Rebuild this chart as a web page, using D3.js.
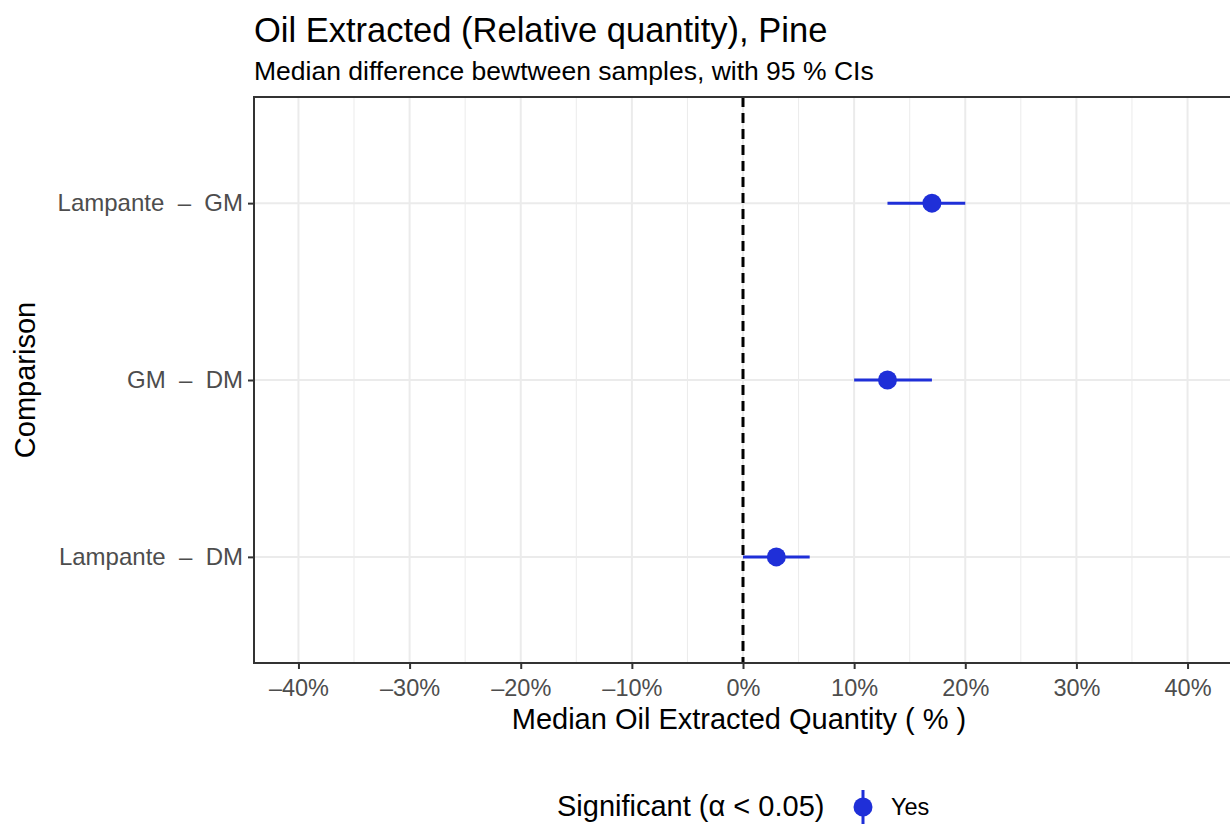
<!DOCTYPE html>
<html>
<head>
<meta charset="utf-8">
<script src="https://cdn.jsdelivr.net/npm/d3@7"></script>
<style>
  body { margin: 0; background: #fff; }
  text { font-family: "Liberation Sans", Arial, sans-serif; }
</style>
</head>
<body>
<div id="viz-container"></div>
<script>
// data
let comparisons = ['Lampante  \u2013  GM', 'GM  \u2013  DM', 'Lampante  \u2013  DM'];
let medians = [17, 13, 3];
let lowerCI = [13, 10, 0];
let upperCI = [20, 17, 6];
let xTicks = [-40, -30, -20, -10, 0, 10, 20, 30, 40];
let xMinor = [-35, -25, -15, -5, 5, 15, 25, 35];

let rows = comparisons.map((c, i) => ({name: c, mid: medians[i], lo: lowerCI[i], hi: upperCI[i]}));

let W = 1230, H = 824;
let pLeft = 254, pRight = 1232, pTop = 97, pBottom = 663;
let ptColor = '#1f2fd8';
let fontFam = '"Liberation Sans", Arial, sans-serif';

let viz = d3.select('#viz-container')
  .append('svg')
    .attr('width', W)
    .attr('height', H);

let x = d3.scaleLinear().domain([-44, 44]).range([pLeft, pRight]);
let y = d3.scalePoint().domain(comparisons).range([pTop, pBottom]).padding(0.6);

// grid
viz.selectAll('.minor').data(xMinor).enter()
  .append('line')
    .attr('x1', d => x(d)).attr('x2', d => x(d))
    .attr('y1', pTop).attr('y2', pBottom)
    .attr('stroke', '#ebebeb').attr('stroke-width', 1);

viz.selectAll('.major').data(xTicks).enter()
  .append('line')
    .attr('x1', d => x(d)).attr('x2', d => x(d))
    .attr('y1', pTop).attr('y2', pBottom)
    .attr('stroke', '#ebebeb').attr('stroke-width', 2);

viz.selectAll('.hgrid').data(comparisons).enter()
  .append('line')
    .attr('x1', pLeft).attr('x2', pRight)
    .attr('y1', d => y(d)).attr('y2', d => y(d))
    .attr('stroke', '#ebebeb').attr('stroke-width', 2);

// zero line
viz.append('line')
  .attr('x1', x(0)).attr('x2', x(0))
  .attr('y1', pTop).attr('y2', pBottom)
  .attr('stroke', '#000').attr('stroke-width', 3)
  .attr('stroke-dasharray', '10,6');

// CIs and points
viz.selectAll('.ci').data(rows).enter()
  .append('line')
    .attr('x1', d => x(d.lo)).attr('x2', d => x(d.hi))
    .attr('y1', d => y(d.name)).attr('y2', d => y(d.name))
    .attr('stroke', ptColor).attr('stroke-width', 3);

viz.selectAll('.pt').data(rows).enter()
  .append('circle')
    .attr('cx', d => x(d.mid)).attr('cy', d => y(d.name))
    .attr('r', 9.5)
    .attr('fill', ptColor);

// panel border
viz.append('rect')
  .attr('x', pLeft).attr('y', pTop)
  .attr('width', pRight - pLeft).attr('height', pBottom - pTop)
  .attr('fill', 'none').attr('stroke', '#333').attr('stroke-width', 2);

// axes
let xAxis = viz.append('g')
  .attr('transform', 'translate(0,' + pBottom + ')')
  .call(d3.axisBottom(x).tickValues(xTicks).tickSize(6).tickPadding(10)
    .tickFormat(d => (d < 0 ? '\u2013' + Math.abs(d) : d) + '%'));
xAxis.select('.domain').remove();
xAxis.selectAll('line').attr('stroke', '#333').attr('stroke-width', 2);
xAxis.selectAll('text').attr('fill', '#4d4d4d').style('font-size', '23.5px')
  .style('font-family', fontFam);

let yAxis = viz.append('g')
  .attr('transform', 'translate(' + pLeft + ',0)')
  .call(d3.axisLeft(y).tickSize(6).tickPadding(5));
yAxis.select('.domain').remove();
yAxis.selectAll('line').attr('stroke', '#333').attr('stroke-width', 2);
yAxis.selectAll('text').attr('fill', '#4d4d4d').style('font-size', '24px')
  .style('white-space', 'pre')
  .style('font-family', fontFam);

// titles
viz.append('text')
  .attr('x', pLeft).attr('y', 42)
  .style('font-size', '34.5px')
  .text('Oil Extracted (Relative quantity), Pine');

viz.append('text')
  .attr('x', pLeft).attr('y', 80)
  .style('font-size', '26.5px')
  .text('Median difference bewtween samples, with 95 % CIs');

viz.append('text')
  .attr('x', (pLeft + pRight) / 2 - 4).attr('y', 729)
  .attr('text-anchor', 'middle')
  .style('font-size', '29px')
  .text('Median Oil Extracted Quantity ( % )');

viz.append('text')
  .attr('transform', 'translate(35,' + ((pTop + pBottom) / 2) + ') rotate(-90)')
  .attr('text-anchor', 'middle')
  .style('font-size', '29px')
  .text('Comparison');

// legend
let legend = viz.append('g');
legend.append('text')
  .attr('x', 557).attr('y', 816)
  .style('font-size', '29px')
  .text('Significant (\u03b1 < 0.05)');
legend.append('line')
  .attr('x1', 863).attr('x2', 863)
  .attr('y1', 790).attr('y2', 826)
  .attr('stroke', ptColor).attr('stroke-width', 3);
legend.append('circle')
  .attr('cx', 863).attr('cy', 807).attr('r', 9.5)
  .attr('fill', ptColor);
legend.append('text')
  .attr('x', 891).attr('y', 815)
  .style('font-size', '23.5px')
  .text('Yes');
</script>
</body>
</html>
